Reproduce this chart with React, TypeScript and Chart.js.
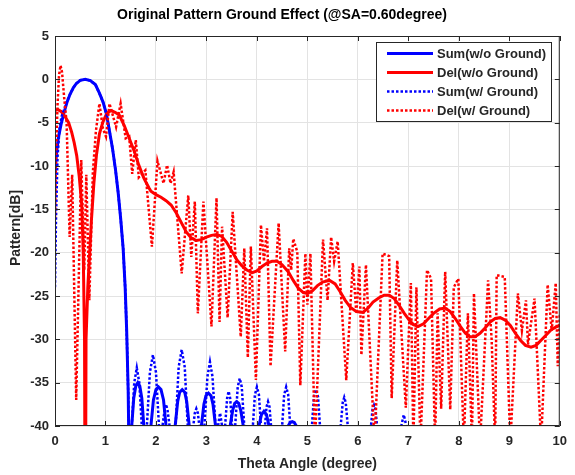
import React, { useEffect, useRef } from "react";
import { Chart, registerables } from "chart.js";
Chart.register(...registerables);

const titleText = "Original Pattern Ground Effect (@SA=0.60degree)";
const xLabel = "Theta Angle (degree)";
const yLabel = "Pattern[dB]";
const xTicks = [0, 1, 2, 3, 4, 5, 6, 7, 8, 9, 10];
const yTicks = [5, 0, -5, -10, -15, -20, -25, -30, -35, -40];
const legendLabels = ["Sum(w/o Ground)", "Del(w/o Ground)", "Sum(w/ Ground)", "Del(w/ Ground)"];

// Sum (w/o Ground)
const sumWoX = [0, 0.03, 0.065, 0.12, 0.18, 0.24, 0.3, 0.36, 0.42, 0.5, 0.6, 0.7, 0.8, 0.88, 0.95, 1.02, 1.08, 1.14, 1.2, 1.25, 1.3, 1.35, 1.39, 1.42, 1.45, 1.47,
  1.52, 1.56, 1.6, 1.64, 1.68, 1.72, 1.76, 1.8,
  1.86, 1.9, 1.95, 2.0, 2.05, 2.1, 2.15, 2.2, 2.25,
  2.33, 2.38, 2.43, 2.47, 2.52, 2.57, 2.61, 2.66, 2.71,
  2.85, 2.9, 2.95, 2.99, 3.04, 3.09, 3.13, 3.18, 3.23,
  3.42, 3.47, 3.52, 3.56, 3.6, 3.64, 3.68, 3.73, 3.78,
  3.99, 4.04, 4.09, 4.14, 4.19, 4.24, 4.29,
  4.58, 4.62, 4.66, 4.7, 4.74, 4.78, 4.82, 10];
const sumWoY = [-10.8, -8.5, -6.8, -5.2, -3.8, -2.6, -1.7, -1.0, -0.5, -0.12, 0, -0.15, -0.6, -1.6, -2.6, -4.0, -6.0, -8.0, -10.5, -13, -16, -19.5, -24, -29, -36, -45,
  -40, -36.8, -35.4, -35, -35.4, -36.8, -40, -45,
  -45, -40, -37, -35.8, -35.5, -35.8, -37, -40, -45,
  -45, -40, -37.2, -36.1, -35.8, -36.1, -37.2, -40, -45,
  -45, -40, -37.5, -36.5, -36.2, -36.5, -37.5, -40, -45,
  -45, -40, -38.2, -37.4, -37.2, -37.4, -38.2, -40, -45,
  -45, -40, -38.7, -38.3, -38.7, -40, -45,
  -45, -40, -39.6, -39.5, -39.6, -40, -45, -45];

// Del (w/o Ground)
const delWoX = [0, 0.06, 0.12, 0.2, 0.27, 0.33, 0.38, 0.43, 0.48, 0.53, 0.56, 0.585, 0.6, 0.615, 0.65, 0.72, 0.77, 0.82, 0.88, 0.95, 1.03, 1.11, 1.19, 1.27, 1.37, 1.47, 1.57, 1.66, 1.76, 1.86, 1.9,
  2.0, 2.1, 2.2, 2.3, 2.4, 2.5, 2.6, 2.7, 2.8, 2.9, 3.0, 3.1, 3.2, 3.3, 3.4, 3.5, 3.6, 3.7, 3.8, 3.91, 4.0, 4.1, 4.2, 4.3, 4.4, 4.5, 4.62, 4.72, 4.82, 4.92, 5.0, 5.1, 5.2, 5.3, 5.44, 5.55, 5.65, 5.75, 5.85, 5.97,
  6.1, 6.2, 6.3, 6.42, 6.52, 6.62, 6.72, 6.82, 6.92, 7.02, 7.1, 7.2, 7.3, 7.4, 7.5, 7.62, 7.73, 7.83, 7.93, 8.03, 8.13, 8.22, 8.32, 8.42, 8.52, 8.62, 8.72, 8.82, 8.92, 9.02, 9.12, 9.22, 9.32, 9.43, 9.53, 9.63, 9.73, 9.83, 9.92, 10];
const delWoY = [-3.6, -3.5, -3.7, -4.3, -5.0, -6.1, -7.3, -8.8, -11.2, -14.5, -20.3, -30, -60, -30, -24, -16.4, -12, -8.8, -6.3, -4.9, -3.9, -3.6, -3.8, -4.1, -5.3, -6.8, -8.3, -9.9, -11.4, -12.5, -12.9,
  -13.3, -13.6, -14.0, -14.5, -15.4, -16.5, -17.6, -18.3, -18.6, -18.5, -18.2, -18.0, -17.9, -18.1, -18.8, -19.8, -20.8, -21.5, -22.0, -22.3, -22.1, -21.6, -21.2, -21.0, -21.0, -21.4, -22.2, -23.2, -24.1, -24.6, -24.7, -24.4, -23.8, -23.4, -23.2, -23.6, -24.5, -25.5, -26.3, -26.8,
  -26.9, -26.4, -25.7, -25.2, -24.9, -24.9, -25.3, -26.1, -27.0, -27.8, -28.3, -28.5, -28.2, -27.6, -27.0, -26.5, -26.4, -26.8, -27.6, -28.5, -29.3, -29.7, -29.7, -29.3, -28.7, -28.0, -27.6, -27.5, -27.8, -28.4, -29.3, -30.1, -30.7, -30.9, -30.7, -30.1, -29.5, -28.9, -28.6, -28.4];

// Sum (w/ Ground)
const sumWX = [0, 0.02, 0.05, 0.09, 0.13, 0.18, 0.24, 0.3, 0.36, 0.42, 0.5, 0.6, 0.7, 0.8, 0.88, 0.95, 1.02, 1.08, 1.14, 1.2, 1.25, 1.3, 1.35, 1.39, 1.42, 1.45, 1.47,
  1.49, 1.52, 1.57, 1.62, 1.67, 1.72, 1.75,
  1.79, 1.82, 1.88, 1.94, 2.0, 2.06, 2.09,
  2.1, 2.13, 2.17, 2.2, 2.23, 2.27, 2.3,
  2.36, 2.39, 2.45, 2.51, 2.57, 2.63, 2.66,
  2.71, 2.74, 2.77, 2.8, 2.83, 2.86, 2.89,
  2.93, 2.96, 3.02, 3.07, 3.12, 3.18, 3.2,
  3.23, 3.27, 3.31, 3.34,
  3.37, 3.41, 3.44, 3.47, 3.51, 3.54,
  3.55, 3.57, 3.62, 3.66, 3.7, 3.75, 3.78,
  3.89, 3.92, 3.96, 4.0, 4.04, 4.08, 4.11,
  4.13, 4.16, 4.19, 4.22, 4.25, 4.28, 4.31,
  4.47, 4.5, 4.54, 4.58, 4.62, 4.66, 4.69,
  5.06, 5.09, 5.13, 5.17, 5.21, 5.25, 5.28,
  5.63, 5.66, 5.7, 5.73, 5.76, 5.8, 5.83,
  6.23, 6.26, 6.29, 6.32, 6.35, 6.38, 6.41,
  6.83, 6.86, 6.91, 6.96, 6.99, 10];
const sumWY = [-24, -16, -9, -5.6, -4.3, -3.5, -2.5, -1.7, -1.0, -0.5, -0.1, 0, -0.15, -0.6, -1.6, -2.6, -4.0, -6.0, -8.0, -10.5, -13, -16, -19.5, -24, -29, -36, -45,
  -45, -40, -35, -33.3, -35, -40, -45,
  -45, -40, -33.8, -31.8, -33.8, -40, -45,
  -45, -40, -38.2, -37.5, -38.2, -40, -45,
  -45, -40, -33.2, -31.2, -33.2, -40, -45,
  -45, -40, -38.5, -38, -38.5, -40, -45,
  -45, -40, -34.3, -32.6, -34.3, -40, -45,
  -40, -38.5, -40, -45,
  -40, -36.8, -36, -36.8, -40, -45,
  -45, -40, -35.5, -34.5, -35.5, -40, -45,
  -45, -40, -36.4, -35.5, -36.4, -40, -45,
  -45, -40, -37.8, -37.2, -37.8, -40, -45,
  -45, -40, -36.4, -35.5, -36.4, -40, -45,
  -45, -40, -36.6, -35.8, -36.6, -40, -45,
  -45, -40, -37.3, -36.7, -37.3, -40, -45,
  -45, -40, -38.1, -37.6, -38.1, -40, -45,
  -45, -40, -38.7, -40, -45, -45];

// Del (w/ Ground)
const delWX = [0, 0.02, 0.05, 0.08, 0.11, 0.14, 0.18, 0.23, 0.29, 0.34, 0.42, 0.52, 0.58, 0.62, 0.68, 0.75, 0.81, 0.88, 0.95, 1.01, 1.08, 1.21, 1.3, 1.4, 1.47, 1.53, 1.6, 1.66, 1.79, 1.92,
  2.03, 2.15, 2.22, 2.29, 2.35, 2.51, 2.64, 2.7, 2.77, 2.83, 2.94, 3.1, 3.2, 3.26, 3.31, 3.42, 3.52, 3.68, 3.75, 3.82, 3.88, 3.98, 4.08, 4.14, 4.2, 4.27, 4.43, 4.56, 4.64, 4.68, 4.72, 4.8, 4.86, 4.96,
  5.0, 5.06, 5.15, 5.31, 5.4, 5.47, 5.53, 5.6, 5.77, 5.9, 5.97, 6.03, 6.07, 6.16, 6.33, 6.49, 6.62, 6.67, 6.78, 6.95, 7.05, 7.1, 7.16, 7.24, 7.37, 7.45, 7.53, 7.58, 7.65, 7.73, 7.83, 7.9, 7.99,
  8.1, 8.18, 8.26, 8.3, 8.42, 8.58, 8.65, 8.72, 8.75, 8.91, 9.02, 9.17, 9.25, 9.33, 9.37, 9.5, 9.63, 9.76, 9.84, 9.92, 9.96, 10];
const delWY = [-16, -9, -3, 0.5, 1.6, 0.8, -2, -5, -18.2, -11, -37, -9.3, -22, -11, -25.5, -10.7, -6, -2.8, -5.7, -6.6, -2.8, -5.5, -2.8, -6.8, -6.6, -10.9, -7, -11.3, -10.5, -19.3,
  -9.4, -12, -9.9, -12, -10.7, -22.4, -13.4, -20.5, -14.1, -27, -14.1, -28.5, -13.7, -28, -17, -27.5, -15.3, -29.7, -19.5, -32.1, -19.3, -34.7, -16.8, -21, -17.2, -33.1, -16.6, -31.4, -19.5, -22, -18.4, -19.9, -35.3, -20.1,
  -26, -20.1, -42, -18.5, -25.5, -18.2, -21, -18.7, -34.7, -21.2, -27, -21.6, -31.8, -21.4, -42, -20.1, -20.4, -36.8, -20.9, -37.9, -23.5, -42, -24, -42, -22, -23, -42, -27, -38, -22.2, -38.1, -24, -23,
  -42, -27, -42, -24.7, -42, -23.2, -30, -42, -22.6, -22.8, -42, -24.7, -29, -25.5, -30.6, -25.3, -42, -23.7, -29, -23.5, -33.1, -27];

const BLUE = "#0000ff";
const RED = "#ff0000";
const TXT = "#262626";
const FONT = '"Liberation Sans", Arial, sans-serif';

const pts = (xs: number[], ys: number[]) => xs.map((x, i) => ({ x, y: ys[i] }));

const styles = [
  { color: BLUE, dash: [] as number[], width: 3 },
  { color: RED, dash: [] as number[], width: 3 },
  { color: BLUE, dash: [2.5, 2], width: 2.5 },
  { color: RED, dash: [2.5, 2], width: 2.5 },
];

const decor = {
  id: "decor",
  afterDatasetsDraw(chart: any) {
    const { ctx, chartArea: a, scales } = chart;
    ctx.save();
    ctx.strokeStyle = TXT;
    ctx.lineWidth = 1;
    ctx.strokeRect(a.left + 0.5, a.top + 0.5, a.right - a.left - 1, a.bottom - a.top - 1);
    ctx.beginPath();
    xTicks.forEach((v) => {
      const px = Math.round(scales.x.getPixelForValue(v)) + 0.5;
      ctx.moveTo(px, a.bottom); ctx.lineTo(px, a.bottom - 5);
      ctx.moveTo(px, a.top); ctx.lineTo(px, a.top + 5);
    });
    yTicks.forEach((v) => {
      const py = Math.round(scales.y.getPixelForValue(v)) + 0.5;
      ctx.moveTo(a.left, py); ctx.lineTo(a.left + 5, py);
      ctx.moveTo(a.right, py); ctx.lineTo(a.right - 5, py);
    });
    ctx.stroke();

    // legend
    const bx = 376, by = 42, bw = 175, bh = 79;
    ctx.fillStyle = "#ffffff";
    ctx.fillRect(bx, by, bw, bh);
    ctx.strokeStyle = TXT;
    ctx.lineWidth = 1;
    ctx.strokeRect(bx + 0.5, by + 0.5, bw, bh);
    ctx.font = `bold 13px ${FONT}`;
    ctx.textBaseline = "middle";
    ctx.textAlign = "left";
    legendLabels.forEach((lab, i) => {
      const y = 53.5 + i * 19;
      const s = styles[i];
      ctx.beginPath();
      ctx.strokeStyle = s.color;
      ctx.lineWidth = s.width;
      ctx.setLineDash(s.dash);
      ctx.moveTo(387, y);
      ctx.lineTo(433, y);
      ctx.stroke();
      ctx.setLineDash([]);
      ctx.fillStyle = TXT;
      ctx.fillText(lab, 437, y + 1);
    });

    // titles
    ctx.fillStyle = "#000000";
    ctx.font = `bold 14px ${FONT}`;
    ctx.textAlign = "center";
    ctx.fillText(titleText, 282, 15);
    ctx.fillStyle = TXT;
    ctx.font = `bold 14px ${FONT}`;
    ctx.fillText(xLabel, (a.left + a.right) / 2, 464);
    ctx.translate(16, 228);
    ctx.rotate(-Math.PI / 2);
    ctx.fillText(yLabel, 0, 0);
    ctx.restore();
  },
};

export default function App() {
  const ref = useRef<HTMLCanvasElement>(null);
  useEffect(() => {
    const series = [pts(sumWoX, sumWoY), pts(delWoX, delWoY), pts(sumWX, sumWY), pts(delWX, delWY)];
    const chart = new Chart(ref.current as HTMLCanvasElement, {
      type: "line",
      data: {
        datasets: series.map((d, i) => ({
          label: legendLabels[i],
          data: d,
          borderColor: styles[i].color,
          borderWidth: styles[i].width,
          borderDash: styles[i].dash,
          pointRadius: 0,
          fill: false,
          tension: 0,
          clip: 0,
          order: 4 - i,
        })),
      },
      options: {
        animation: false,
        responsive: false,
        layout: { padding: { left: 0, top: 36, right: 9, bottom: 0 } },
        plugins: { legend: { display: false }, tooltip: { enabled: false }, title: { display: false } },
        scales: {
          x: {
            type: "linear",
            min: 0,
            max: 10,
            afterBuildTicks: (s: any) => { s.ticks = xTicks.map((v) => ({ value: v })); },
            afterFit: (s: any) => { s.height = 49; },
            grid: { color: "#e3e3e3", drawTicks: false },
            border: { display: false },
            ticks: { padding: 8, color: TXT, font: { family: FONT, size: 13, weight: "bold" }, maxRotation: 0 },
          },
          y: {
            type: "linear",
            min: -40,
            max: 5,
            afterBuildTicks: (s: any) => { s.ticks = yTicks.map((v) => ({ value: v })); },
            afterFit: (s: any) => { s.width = 55; },
            grid: { color: "#e3e3e3", drawTicks: false },
            border: { display: false },
            ticks: { padding: 6, color: TXT, font: { family: FONT, size: 13, weight: "bold" } },
          },
        },
      },
      plugins: [decor],
    });
    return () => chart.destroy();
  }, []);
  return (
    <div style={{ position: "fixed", left: 0, top: 0, width: 575, height: 475, background: "#fff" }}>
      <canvas ref={ref} width={575} height={475} />
    </div>
  );
}
